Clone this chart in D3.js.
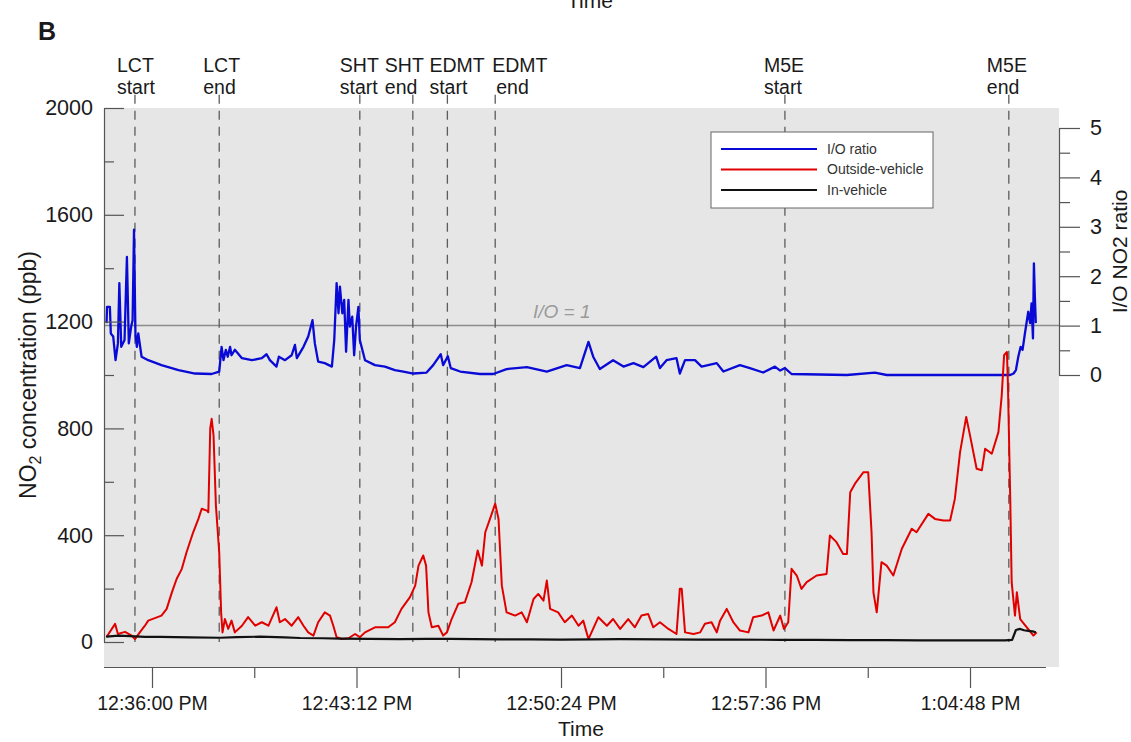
<!DOCTYPE html>
<html>
<head>
<meta charset="utf-8">
<script src="https://cdn.jsdelivr.net/npm/d3@7"></script>
<style>
  body { margin: 0; background: #fff; }
  text { font-family: "Liberation Sans", Arial, sans-serif; fill: #1a1a1a; }
</style>
</head>
<body>
<div id="chart"></div>
<script>
// all times are seconds after 12:34:00 PM
const base = new Date(2020, 0, 1, 12, 34, 0);
const sec = s => new Date(base.getTime() + s * 1000);

const eventNames = ["LCT", "LCT", "SHT", "SHT", "EDMT", "EDMT", "M5E", "M5E"];
const eventPhase = ["start", "end", "start", "end", "start", "end", "start", "end"];
const eventTimes = [84, 262, 559, 671, 744, 845, 1457, 1930];

const majorTicks = [120, 552, 984, 1416, 1848];
const minorTicks = [336, 768, 1200, 1632];
const leftMajor = [0, 400, 800, 1200, 1600, 2000];
const leftMinor = [200, 600, 1000, 1400, 1800];
const rightMajor = [0, 1, 2, 3, 4, 5];
const rightMinor = [0.5, 1.5, 2.5, 3.5, 4.5];

const seriesNames = ["I/O ratio", "Outside-vehicle", "In-vehicle"];

// outside-vehicle NO2 (ppb)
const outside = [
  [24,19],[42,68],[48,30],[63,38],[77,24],[84,11],[95,38],[105,61],[112,80],[140,99],
  [151,124],[162,186],[172,236],[183,274],[193,336],[207,411],[218,461],[225,499],[236,492],[239,486],
  [243,799],[246,836],[250,774],[255,511],[262,336],[266,111],[269,36],[274,86],[281,49],[288,80],
  [295,36],[310,61],[323,93],[338,61],[352,74],[366,61],[383,130],[390,74],[401,86],[415,61],
  [429,93],[440,61],[450,36],[461,24],[471,74],[485,111],[496,99],[503,61],[510,18],[521,11],
  [535,14],[549,30],[559,18],[570,36],[591,55],[619,55],[633,74],[647,124],[665,168],[676,211],
  [683,286],[693,324],[699,286],[704,111],[711,55],[725,61],[735,24],[743,36],[753,86],[767,143],
  [781,149],[795,224],[808,343],[817,286],[824,411],[834,461],[845,518],[852,461],[859,211],[869,111],
  [887,99],[901,111],[912,74],[926,161],[936,180],[947,155],[954,230],[961,124],[978,111],[992,74],
  [1007,99],[1021,61],[1031,80],[1042,11],[1063,93],[1081,61],[1094,86],[1109,49],[1126,86],[1140,55],
  [1154,99],[1168,105],[1179,55],[1193,74],[1211,49],[1228,30],[1235,199],[1239,199],[1246,36],[1264,30],
  [1278,36],[1288,68],[1302,74],[1313,36],[1320,80],[1334,124],[1348,74],[1362,43],[1380,36],[1390,93],
  [1408,99],[1422,111],[1433,43],[1447,99],[1455,49],[1464,74],[1471,274],[1482,249],[1492,199],[1503,224],
  [1524,249],[1545,255],[1552,399],[1566,374],[1580,330],[1588,330],[1595,561],[1605,593],[1623,636],[1633,636],
  [1640,411],[1644,186],[1651,111],[1661,299],[1672,286],[1686,249],[1704,349],[1725,424],[1735,411],[1760,480],
  [1774,461],[1792,455],[1806,455],[1816,536],[1827,711],[1840,843],[1848,774],[1862,649],[1873,643],[1880,724],
  [1894,705],[1908,786],[1915,924],[1920,1074],[1926,1086],[1928,974],[1933,536],[1936,224],[1943,99],[1947,186],
  [1954,86],[1968,55],[1982,24],[1989,36]
];

// in-vehicle NO2 (ppb)
const inside = [
  [23,20],[50,24],[74,22],[105,19],[137,19],[200,17],[264,16],[300,18],[348,20],[400,17],
  [433,15],[480,14],[517,13],[580,12],[644,11],[700,12],[750,12],[800,11],[855,10],[920,10],
  [982,9],[1050,10],[1109,11],[1200,10],[1278,9],[1350,9],[1447,8],[1520,8],[1595,7],[1670,7],
  [1743,6],[1830,6],[1922,6],[1937,8],[1945,45],[1954,49],[1962,44],[1971,42],[1980,40],[1987,36]
];

// indoor / outdoor ratio
const ratio = [
  [24,1.05],[25,1.38],[31,1.38],[33,0.84],[38,0.78],[43,0.30],[48,0.64],[51,1.86],[55,0.57],[62,0.71],
  [67,2.39],[71,0.64],[76,0.98],[79,1.11],[82,2.94],[85,0.84],[88,0.57],[91,0.84],[98,0.37],[112,0.30],
  [140,0.20],[176,0.10],[211,0.03],[246,0.02],[262,0.07],[267,0.57],[271,0.30],[276,0.51],[280,0.37],[285,0.57],
  [288,0.40],[295,0.51],[310,0.34],[331,0.30],[352,0.34],[362,0.42],[369,0.30],[383,0.17],[388,0.37],[401,0.30],
  [415,0.40],[422,0.61],[426,0.34],[440,0.57],[450,0.78],[459,1.11],[464,0.64],[471,0.27],[485,0.24],[500,0.17],
  [505,0.71],[510,1.86],[514,1.25],[517,1.79],[522,1.25],[526,1.52],[530,0.47],[535,1.52],[538,0.98],[543,1.18],
  [547,0.40],[551,0.98],[556,1.38],[559,0.71],[570,0.30],[591,0.20],[612,0.17],[633,0.10],[651,0.07],[672,0.03],
  [700,0.05],[714,0.20],[730,0.42],[735,0.20],[745,0.38],[751,0.14],[771,0.07],[813,0.02],[841,0.02],[869,0.12],
  [912,0.16],[954,0.07],[996,0.20],[1024,0.14],[1042,0.67],[1052,0.37],[1066,0.12],[1094,0.30],[1116,0.17],[1137,0.24],
  [1158,0.16],[1185,0.37],[1193,0.14],[1207,0.30],[1228,0.34],[1235,0.03],[1246,0.30],[1267,0.30],[1281,0.17],[1313,0.24],
  [1327,0.07],[1362,0.20],[1383,0.14],[1411,0.05],[1436,0.17],[1447,0.09],[1457,0.14],[1471,0.02],[1588,0.00],[1647,0.05],
  [1672,0.00],[1933,0.00],[1940,0.03],[1945,0.10],[1950,0.37],[1955,0.57],[1959,0.51],[1964,0.84],[1971,1.28],[1975,1.05],
  [1978,1.45],[1981,0.74],[1983,2.26],[1985,1.59],[1987,1.05]
];

const plot = { left: 104, right: 1059, top: 108, bottom: 667 };

const svg = d3.select("#chart").append("svg")
  .attr("width", 1131)
  .attr("height", 742);

const x = d3.scaleTime()
  .domain([sec(18.6), sec(2036)])
  .range([plot.left, plot.right]);
const yL = d3.scaleLinear().domain([0, 2000]).range([642, 108]);
const yR = d3.scaleLinear().domain([0, 5]).range([375, 128]);

svg.append("rect")
  .attr("x", plot.left).attr("y", plot.top)
  .attr("width", plot.right - plot.left)
  .attr("height", plot.bottom - plot.top)
  .attr("fill", "#e6e6e6");

// I/O = 1 reference
svg.append("line")
  .attr("x1", plot.left).attr("x2", plot.right)
  .attr("y1", yR(1)).attr("y2", yR(1))
  .attr("stroke", "#8c8c8c").attr("stroke-width", 1.5);
svg.append("text")
  .attr("x", 533).attr("y", yR(1) - 8)
  .attr("font-size", "19px").attr("font-style", "italic")
  .style("fill", "#9a9a9a")
  .text("I/O = 1");

// event markers
svg.selectAll(".event")
  .data(eventTimes)
  .enter().append("line")
  .attr("class", "event")
  .attr("x1", d => x(sec(d))).attr("x2", d => x(sec(d)))
  .attr("y1", yL(2050)).attr("y2", yL(0))
  .attr("stroke", "#5c5c5c").attr("stroke-width", 1.3)
  .attr("stroke-dasharray", "9,7");

const labelShift = [-18, -16, -20, -28, -18, -3, -21, -22];
const evLabels = svg.selectAll(".evlabel")
  .data(eventTimes)
  .enter().append("text")
  .attr("class", "evlabel")
  .attr("font-size", "19.5px")
  .attr("x", (d, i) => x(sec(d)) + labelShift[i]);
evLabels.append("tspan").attr("y", 72).text((d, i) => eventNames[i]);
evLabels.append("tspan")
  .attr("x", (d, i) => x(sec(d)) + labelShift[i] + (i === 5 ? 4 : 0))
  .attr("y", 94).text((d, i) => eventPhase[i]);

// series
const lineL = d3.line().x(d => x(sec(d[0]))).y(d => yL(d[1]));
const lineR = d3.line().x(d => x(sec(d[0]))).y(d => yR(d[1]));

svg.append("path").datum(ratio)
  .attr("d", lineR).attr("fill", "none")
  .attr("stroke", "#0a0ad6").attr("stroke-width", 2.3).attr("stroke-linejoin", "round");
svg.append("path").datum(outside)
  .attr("d", lineL).attr("fill", "none")
  .attr("stroke", "#e10000").attr("stroke-width", 2).attr("stroke-linejoin", "round");
svg.append("path").datum(inside)
  .attr("d", lineL).attr("fill", "none")
  .attr("stroke", "#111").attr("stroke-width", 2.2).attr("stroke-linejoin", "round");

// axes
function styleAxis(g) {
  g.selectAll(".domain").attr("stroke", "#555").attr("stroke-width", 1.2);
  g.selectAll(".tick line").attr("stroke", "#555").attr("stroke-width", 1.2);
  g.selectAll("text").style("font-family", '"Liberation Sans", Arial, sans-serif').style("fill", "#1a1a1a");
}

const intFmt = d3.format("d");

const leftAxis = svg.append("g")
  .attr("transform", `translate(${plot.left},0)`)
  .call(d3.axisLeft(yL).tickValues(leftMajor).tickFormat(intFmt)
    .tickSizeInner(-20).tickSizeOuter(0).tickPadding(11));
leftAxis.selectAll("text").attr("font-size", "21.5px");
svg.append("g")
  .attr("transform", `translate(${plot.left},0)`)
  .call(d3.axisLeft(yL).tickValues(leftMinor).tickSizeInner(-10).tickSizeOuter(0).tickFormat(""))
  .call(g => g.select(".domain").remove())
  .call(styleAxis);
styleAxis(leftAxis);

const rightAxis = svg.append("g")
  .attr("transform", `translate(${plot.right},0)`)
  .call(d3.axisRight(yR).tickValues(rightMajor).tickFormat(intFmt)
    .tickSizeInner(21).tickSizeOuter(0).tickPadding(10));
rightAxis.selectAll("text").attr("font-size", "21.5px");
svg.append("g")
  .attr("transform", `translate(${plot.right},0)`)
  .call(d3.axisRight(yR).tickValues(rightMinor).tickSizeInner(11).tickSizeOuter(0).tickFormat(""))
  .call(g => g.select(".domain").remove())
  .call(styleAxis);
styleAxis(rightAxis);

const fmt = d3.timeFormat("%-I:%M:%S %p");
const bottomAxis = svg.append("g")
  .attr("transform", `translate(0,${plot.bottom})`)
  .call(d3.axisBottom(x).tickValues(majorTicks.map(sec)).tickFormat(fmt)
    .tickSizeInner(21).tickSizeOuter(0).tickPadding(8));
bottomAxis.select(".domain").attr("d", `M${plot.left},0.5H1046`);
bottomAxis.selectAll("text").attr("font-size", "19.5px");
svg.append("g")
  .attr("transform", `translate(0,${plot.bottom})`)
  .call(d3.axisBottom(x).tickValues(minorTicks.map(sec)).tickSizeInner(11).tickSizeOuter(0).tickFormat(""))
  .call(g => g.select(".domain").remove())
  .call(styleAxis);
styleAxis(bottomAxis);

// titles
svg.append("text")
  .attr("x", 581).attr("y", 736)
  .attr("text-anchor", "middle").attr("font-size", "21px")
  .text("Time");
svg.append("text")
  .attr("x", 590).attr("y", 8)
  .attr("text-anchor", "middle").attr("font-size", "21px")
  .text("Time");
svg.append("text")
  .attr("x", 38).attr("y", 40)
  .attr("font-size", "25px").attr("font-weight", "bold")
  .text("B");

const yTitle = svg.append("text")
  .attr("transform", `translate(36,${(yL(0) + yL(2000)) / 2}) rotate(-90)`)
  .attr("text-anchor", "middle").attr("font-size", "23px");
yTitle.append("tspan").text("NO");
yTitle.append("tspan").attr("font-size", "16px").attr("dy", 5).text("2");
yTitle.append("tspan").attr("dy", -5).text(" concentration (ppb)");

svg.append("text")
  .attr("transform", `translate(1127,${(yR(0) + yR(5)) / 2}) rotate(-90)`)
  .attr("text-anchor", "middle").attr("font-size", "21px")
  .text("I/O NO2 ratio");

// legend
const legend = svg.append("g").attr("transform", "translate(711,132)");
legend.append("rect")
  .attr("width", 222).attr("height", 76)
  .attr("fill", "#fff").attr("stroke", "#666").attr("stroke-width", 1);
const legendColors = ["#0a0ad6", "#e10000", "#111"];
const rows = legend.selectAll(".row")
  .data(seriesNames)
  .enter().append("g")
  .attr("transform", (d, i) => `translate(0,${17 + i * 20.5})`);
rows.append("line")
  .attr("x1", 10).attr("x2", 106)
  .attr("stroke", (d, i) => legendColors[i]).attr("stroke-width", 2);
rows.append("text")
  .attr("x", 116).attr("dy", "0.35em")
  .attr("font-size", "14px").style("fill", "#333")
  .text(d => d);
</script>
</body>
</html>
